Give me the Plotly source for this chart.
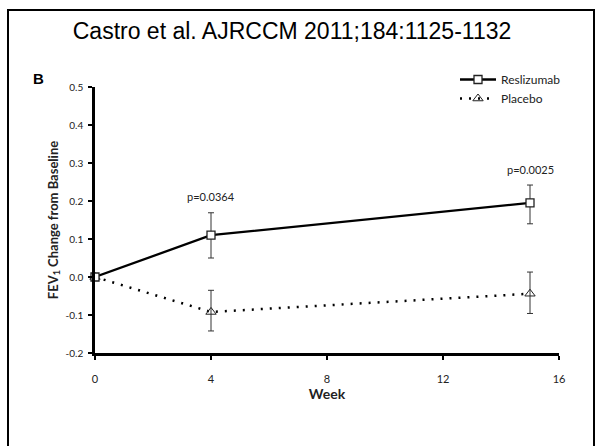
import plotly.graph_objects as go

weeks = [0, 4, 15]
resli_mean = [0.0, 0.11, 0.195]
resli_upper = [0.0, 0.169, 0.242]
resli_lower = [0.0, 0.05, 0.14]
placebo_mean = [0.0, -0.092, -0.044]
placebo_upper = [0.0, -0.035, 0.013]
placebo_lower = [0.0, -0.142, -0.096]
p_values = ["", "p=0.0364", "p=0.0025"]

x_ticks = [0, 4, 8, 12, 16]
x_ticktext = ["0", "4", "8", "12", "16"]
y_ticks = [-0.2, -0.1, 0.0, 0.1, 0.2, 0.3, 0.4, 0.5]
y_ticktext = ["-0.2", "-0.1", "0.0", "0.1", "0.2", "0.3", "0.4", "0.5"]

FONT = "Lato"
W, H = 596, 446
L, T = 95, 87
PW, PH = 464, 266
R = W - (L + PW)
B = H - (T + PH)

def px(sx):
    return (sx - L) / PW

def py(sy):
    return (T + PH - sy) / PH

def err(mean, up, lo):
    return dict(type="data", symmetric=False,
                array=[u - m for u, m in zip(up, mean)],
                arrayminus=[m - l for m, l in zip(mean, lo)],
                color="#333", thickness=1, width=3)

fig = go.Figure()
fig.add_trace(go.Scatter(
    x=weeks, y=placebo_mean, name="Placebo", mode="lines+markers",
    line=dict(color="black", width=2.5, dash="2px,7px"),
    marker=dict(symbol="triangle-up-open", size=9, color="#222", line=dict(width=1)),
    error_y=err(placebo_mean, placebo_upper, placebo_lower),
))
fig.add_trace(go.Scatter(
    x=weeks, y=resli_mean, name="Reslizumab", mode="lines+markers",
    line=dict(color="black", width=2.3),
    marker=dict(symbol="square", size=8, color="white", line=dict(width=1.3, color="#222")),
    error_y=err(resli_mean, resli_upper, resli_lower),
))

annotations = []
for w, up, p in zip(weeks, resli_upper, p_values):
    if p:
        annotations.append(dict(x=w, y=up, xref="x", yref="y", text=p, showarrow=False,
                                yshift=16, yanchor="middle",
                                font=dict(family=FONT, size=11, color="#222")))
annotations.append(dict(x=px(38), y=py(78), xref="paper", yref="paper", text="<b>B</b>",
                        showarrow=False, xanchor="center", yanchor="middle",
                        font=dict(family="Liberation Sans", size=15, color="black")))

fig.update_layout(
    width=W, height=H,
    margin=dict(l=L, r=R, t=T, b=B),
    paper_bgcolor="white", plot_bgcolor="white",
    title=dict(text="Castro et al. AJRCCM 2011;184:1125-1132", x=292 / W,
               xanchor="center", y=1 - 31 / H, yanchor="middle",
               font=dict(family="Liberation Sans", size=23, color="black")),
    showlegend=True,
    legend=dict(x=px(455), y=py(65), xanchor="left", yanchor="top",
                traceorder="reversed", bgcolor="rgba(0,0,0,0)",
                font=dict(family=FONT, size=12, color="#222"), itemwidth=36,
                tracegroupgap=0),
    xaxis=dict(range=[0, 16], tickvals=x_ticks, ticktext=x_ticktext,
               showline=True, linecolor="black", linewidth=2.5,
               ticks="outside", ticklen=4, tickwidth=1.5, tickcolor="black",
               showgrid=False, zeroline=False, ticklabelstandoff=10,
               tickfont=dict(family=FONT, size=11, color="#222"),
               title=dict(text="<b>Week</b>", font=dict(family=FONT, size=14, color="#222"),
                          standoff=5)),
    yaxis=dict(range=[-0.2, 0.5], tickvals=y_ticks, ticktext=y_ticktext,
               showline=True, linecolor="black", linewidth=2.5,
               ticks="outside", ticklen=4, tickwidth=1.5, tickcolor="black",
               showgrid=False, zeroline=False, ticklabelstandoff=3,
               tickfont=dict(family=FONT, size=10, color="#222"),
               title=dict(text="<b>FEV<sub>1</sub> Change from Baseline</b>",
                          font=dict(family=FONT, size=13, color="#222"), standoff=5)),
    annotations=annotations,
    shapes=[dict(type="rect", xref="paper", yref="paper",
                 x0=px(8), x1=px(594), y0=py(470), y1=py(10),
                 line=dict(color="black", width=2), fillcolor="rgba(0,0,0,0)", layer="below")],
)
for tr in fig.data:
    tr.cliponaxis = False

fig.write_html("out.html", config={"displayModeBar": False},
               post_script="document.body.style.margin='0';document.body.style.overflow='hidden';")
